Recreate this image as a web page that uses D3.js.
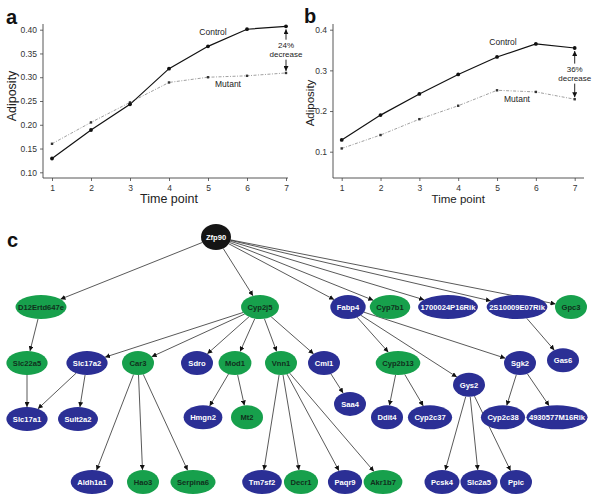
<!DOCTYPE html>
<html>
<head>
<meta charset="utf-8">
<script src="https://cdn.jsdelivr.net/npm/d3@7"></script>
<style>
  body { margin: 0; background: #fff; }
  svg { font-family: "Liberation Sans", Arial, sans-serif; }
</style>
</head>
<body>
<div id="chart"></div>
<script>
// ---- data ----
var timePoints = [1, 2, 3, 4, 5, 6, 7];

var controlA = [0.129, 0.189, 0.243, 0.318, 0.365, 0.401, 0.407];
var mutantA  = [0.160, 0.205, 0.247, 0.289, 0.300, 0.303, 0.309];
var yTicksA  = [0.10, 0.15, 0.20, 0.25, 0.30, 0.35, 0.40];

var controlB = [0.129, 0.190, 0.242, 0.290, 0.333, 0.365, 0.355];
var mutantB  = [0.108, 0.141, 0.180, 0.213, 0.251, 0.247, 0.229];
var yTicksB  = [0.1, 0.2, 0.3, 0.4];

// network nodes: name, colour group, x (layout units), level
var nodeNames = ['Zfp90', 'D12Ertd647e', 'Cyp2j5', 'Fabp4', 'Cyp7b1', '1700024P16Rik', '2S10009E07Rik', 'Gpc3',
  'Slc22a5', 'Slc17a2', 'Car3', 'Sdro', 'Mod1', 'Vnn1', 'Cml1', 'Cyp2b13', 'Sgk2', 'Gas6',
  'Slc17a1', 'Sult2a2', 'Hmgn2', 'Mt2', 'Saa4', 'Gys2', 'Ddit4', 'Cyp2c37', 'Cyp2c38', '4930577M16Rik',
  'Aldh1a1', 'Hao3', 'Serpina6', 'Tm7sf2', 'Decr1', 'Paqr9', 'Akr1b7', 'Pcsk4', 'Slc2a5', 'Ppic'];
var nodeGroup = ['hub', 'up', 'up', 'down', 'up', 'down', 'down', 'up',
  'up', 'down', 'up', 'down', 'up', 'up', 'down', 'up', 'down', 'down',
  'down', 'down', 'down', 'up', 'down', 'down', 'down', 'down', 'down', 'down',
  'down', 'up', 'up', 'down', 'up', 'down', 'up', 'down', 'down', 'down'];
var nodeX = [216, 41, 260, 348, 390, 448, 517, 571,
  27, 87, 138, 197, 235, 281, 324, 398, 520, 563,
  27, 78, 203, 247, 350, 469, 387, 430, 503, 557,
  92, 143, 193, 262, 301, 345, 383, 442, 479, 516];
var nodeLevel = [0, 1, 1, 1, 1, 1, 1, 1,
  2, 2, 2, 2, 2, 2, 2, 2, 2, 1.95,
  3, 3, 2.97, 2.97, 2.73, 2.39, 2.97, 2.97, 2.97, 2.97,
  4, 4, 4, 4, 4, 4, 4, 4, 4, 4];

var edges = [
  ['Zfp90', 'D12Ertd647e'], ['Zfp90', 'Cyp2j5'], ['Zfp90', 'Fabp4'], ['Zfp90', 'Cyp7b1'],
  ['Zfp90', '1700024P16Rik'], ['Zfp90', '2S10009E07Rik'], ['Zfp90', 'Gpc3'],
  ['D12Ertd647e', 'Slc22a5'], ['Slc22a5', 'Slc17a1'],
  ['Cyp2j5', 'Slc17a2'], ['Cyp2j5', 'Car3'], ['Cyp2j5', 'Sdro'], ['Cyp2j5', 'Mod1'],
  ['Cyp2j5', 'Vnn1'], ['Cyp2j5', 'Cml1'],
  ['Slc17a2', 'Slc17a1'], ['Slc17a2', 'Sult2a2'],
  ['Car3', 'Aldh1a1'], ['Car3', 'Hao3'], ['Car3', 'Serpina6'],
  ['Mod1', 'Hmgn2'], ['Mod1', 'Mt2'],
  ['Vnn1', 'Tm7sf2'], ['Vnn1', 'Decr1'], ['Vnn1', 'Paqr9'], ['Vnn1', 'Akr1b7'],
  ['Cml1', 'Saa4'],
  ['Fabp4', 'Cyp2b13'], ['Fabp4', 'Gys2'], ['Fabp4', 'Sgk2'],
  ['Cyp2b13', 'Ddit4'], ['Cyp2b13', 'Cyp2c37'],
  ['Gys2', 'Pcsk4'], ['Gys2', 'Slc2a5'], ['Gys2', 'Ppic'],
  ['Sgk2', 'Cyp2c38'], ['Sgk2', '4930577M16Rik'],
  ['2S10009E07Rik', 'Gas6']
];

var W = 600, H = 502;
var svg = d3.select('#chart').append('svg')
    .attr('width', W)
    .attr('height', H);

var defs = svg.append('defs');
defs.append('marker')
    .attr('id', 'arr')
    .attr('viewBox', '0 0 10 10')
    .attr('refX', 10).attr('refY', 5)
    .attr('markerWidth', 5).attr('markerHeight', 5)
    .attr('markerUnits', 'userSpaceOnUse')
    .attr('orient', 'auto')
    .append('path').attr('d', 'M0,0L10,5L0,10z').attr('fill', '#111');

// ---- line panels ----
var drawPanel = function(opt) {
  var x = d3.scaleLinear().domain([1, 7]).range(opt.xr);
  var y = d3.scaleLinear().domain([opt.yTicks[0], opt.yTicks[opt.yTicks.length - 1]]).range(opt.yr);
  var g = svg.append('g');

  // axes
  var ya = g.append('g')
      .attr('transform', 'translate(' + opt.axisX + ',0)')
      .call(d3.axisLeft(y).tickValues(opt.yTicks).tickSize(3).tickFormat(d3.format(opt.fmt)));
  ya.select('.domain').remove();
  var xa = g.append('g')
      .attr('transform', 'translate(0,' + opt.axisY + ')')
      .call(d3.axisBottom(x).tickValues(timePoints).tickSize(3).tickFormat(d3.format('d')));
  xa.select('.domain').remove();
  [ya, xa].forEach(function(a) {
    a.selectAll('line').attr('stroke', '#444').attr('stroke-width', 0.8);
    a.selectAll('text').attr('fill', '#333').style('font-size', '8.5px')
      .style('font-family', '"Liberation Sans", Arial, sans-serif');
  });
  xa.selectAll('text').attr('dy', '0.9em').attr('y', 5);
  g.append('line')
      .attr('x1', opt.axisX).attr('x2', opt.axisX)
      .attr('y1', opt.axisTop).attr('y2', opt.axisY)
      .attr('stroke', '#444').attr('stroke-width', 0.9);
  g.append('line')
      .attr('x1', opt.axisX).attr('x2', opt.axisRight)
      .attr('y1', opt.axisY).attr('y2', opt.axisY)
      .attr('stroke', '#444').attr('stroke-width', 0.9);

  g.append('text')
      .attr('x', (opt.xr[0] + opt.xr[1]) / 2).attr('y', 203)
      .attr('text-anchor', 'middle').attr('fill', '#222')
      .style('font-size', opt.titleSize + 'px').text('Time point');
  g.append('text')
      .attr('transform', 'translate(' + opt.ylabX + ',' + opt.ylabY + ') rotate(-90)')
      .attr('text-anchor', 'middle').attr('fill', '#222')
      .style('font-size', opt.titleSize + 'px').text('Adiposity');

  var line = d3.line()
      .x(function(d, i) { return x(timePoints[i]); })
      .y(function(d) { return y(d); });

  g.append('path').datum(opt.mutant)
      .attr('d', line).attr('fill', 'none')
      .attr('stroke', '#888').attr('stroke-width', 0.8)
      .attr('stroke-dasharray', '3,1.5,1,1.5');
  g.selectAll('.mpt').data(opt.mutant).enter()
      .append('rect')
      .attr('x', function(d, i) { return x(timePoints[i]) - 1.2; })
      .attr('y', function(d) { return y(d) - 1.2; })
      .attr('width', 2.4).attr('height', 2.4)
      .attr('fill', '#333');

  g.append('path').datum(opt.control)
      .attr('d', line).attr('fill', 'none')
      .attr('stroke', '#111').attr('stroke-width', 1.2);
  g.selectAll('.cpt').data(opt.control).enter()
      .append('circle')
      .attr('cx', function(d, i) { return x(timePoints[i]); })
      .attr('cy', function(d) { return y(d); })
      .attr('r', 1.9).attr('fill', '#111');

  g.append('text').attr('x', opt.ctrlLab[0]).attr('y', opt.ctrlLab[1])
      .attr('text-anchor', 'middle').attr('fill', '#222').style('font-size', '8.5px').text('Control');
  g.append('text').attr('x', opt.mutLab[0]).attr('y', opt.mutLab[1])
      .attr('text-anchor', 'middle').attr('fill', '#222').style('font-size', '8.5px').text('Mutant');

  // decrease annotation
  var ax = x(7);
  var yTop = y(opt.control[6]), yBot = y(opt.mutant[6]);
  var mid = (yTop + yBot) / 2;
  g.append('line')
      .attr('x1', ax).attr('x2', ax)
      .attr('y1', mid - 10).attr('y2', yTop + 3)
      .attr('stroke', '#111').attr('stroke-width', 0.9)
      .attr('marker-end', 'url(#arr)');
  g.append('line')
      .attr('x1', ax).attr('x2', ax)
      .attr('y1', mid + 10).attr('y2', yBot - 2)
      .attr('stroke', '#111').attr('stroke-width', 0.9)
      .attr('marker-end', 'url(#arr)');
  g.append('text').attr('x', ax).attr('y', mid - 1.5)
      .attr('text-anchor', 'middle').attr('fill', '#222').style('font-size', '8px').text(opt.pct);
  g.append('text').attr('x', ax).attr('y', mid + 7.5)
      .attr('text-anchor', 'middle').attr('fill', '#222').style('font-size', '8px').text('decrease');

  svg.append('text').attr('x', opt.letter[0]).attr('y', opt.letter[1])
      .style('font-size', '20px').style('font-weight', 'bold').attr('fill', '#111').text(opt.name);
};

drawPanel({
  name: 'a', letter: [6, 24],
  control: controlA, mutant: mutantA, yTicks: yTicksA, fmt: '.2f',
  xr: [52, 286], yr: [172.3, 29.7],
  axisX: 43, axisY: 178, axisTop: 24, axisRight: 288,
  ylabX: 16, ylabY: 96, titleSize: 12.5,
  ctrlLab: [213, 35], mutLab: [228, 87], pct: '24%'
});

drawPanel({
  name: 'b', letter: [304, 23],
  control: controlB, mutant: mutantB, yTicks: yTicksB, fmt: '.1f',
  xr: [341.7, 574.7], yr: [151.7, 29.7],
  axisX: 333, axisY: 178, axisTop: 24, axisRight: 584,
  ylabX: 314, ylabY: 103, titleSize: 11.5,
  ctrlLab: [503, 45], mutLab: [517, 102], pct: '36%'
});

// ---- network ----
svg.append('text').attr('x', 7).attr('y', 247)
    .style('font-size', '20px').style('font-weight', 'bold').attr('fill', '#111').text('c');

var nx = d3.scaleLinear().domain([0, 600]).range([0, 600]);
var ny = d3.scaleLinear().domain([0, 1, 2, 3, 4]).range([237, 307, 363, 419, 482]);
var fillColor = d3.scaleOrdinal().domain(['hub', 'up', 'down']).range(['#151515', '#17a04c', '#2b2f95']);
var textColor = d3.scaleOrdinal().domain(['hub', 'up', 'down']).range(['#fff', '#10301c', '#fff']);

var nodes = nodeNames.map(function(n, i) {
  return { name: n, group: nodeGroup[i], x: nx(nodeX[i]), y: ny(nodeLevel[i]) };
});
var byName = {};
nodes.forEach(function(d) { byName[d.name] = d; });

var edgeG = svg.append('g');
var nodeG = svg.append('g');

var ng = nodeG.selectAll('.node').data(nodes).enter()
    .append('g')
    .attr('transform', function(d) { return 'translate(' + d.x + ',' + d.y + ')'; });
var ell = ng.append('ellipse').attr('fill', function(d) { return fillColor(d.group); });
ng.append('text')
    .attr('text-anchor', 'middle').attr('dy', '0.35em')
    .attr('fill', function(d) { return textColor(d.group); })
    .style('font-size', '7.6px').style('font-weight', 'bold')
    .text(function(d) { return d.name; })
    .each(function(d) {
      var w = this.getComputedTextLength();
      d.rx = Math.max(16, w / 2 + (w > 45 ? 2.5 : 6.5));
      d.ry = d.group === 'hub' ? 13 : 12;
      if (d.group === 'hub') { d.rx = 15; }
    });
ell.attr('rx', function(d) { return d.rx; }).attr('ry', function(d) { return d.ry; });

var edgePoint = function(n, dx, dy) {
  var t = 1 / Math.sqrt((dx / n.rx) * (dx / n.rx) + (dy / n.ry) * (dy / n.ry));
  return [n.x + dx * t, n.y + dy * t];
};

edgeG.selectAll('.edge').data(edges).enter()
    .append('line')
    .each(function(e) {
      var s = byName[e[0]], t = byName[e[1]];
      var dx = t.x - s.x, dy = t.y - s.y;
      var p0 = edgePoint(s, dx, dy);
      var p1 = edgePoint(t, -dx, -dy);
      d3.select(this)
        .attr('x1', p0[0]).attr('y1', p0[1])
        .attr('x2', p1[0]).attr('y2', p1[1]);
    })
    .attr('stroke', '#222').attr('stroke-width', 0.75)
    .attr('marker-end', 'url(#arr)');
</script>
</body>
</html>
